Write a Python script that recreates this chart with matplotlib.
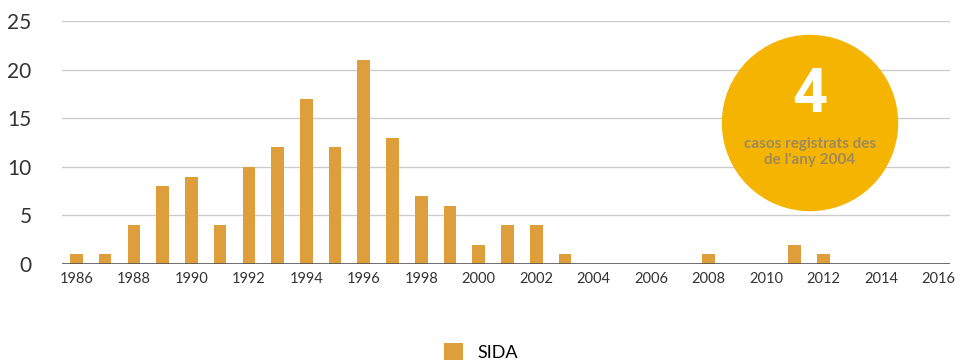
import matplotlib
matplotlib.use('Agg')
import matplotlib.pyplot as plt
from matplotlib.patches import Circle
import numpy as np

plt.rcParams['font.family'] = ['Lato', 'DejaVu Sans']

# DATA
years = list(range(1986, 2017))
sida = [1, 1, 4, 8, 9, 4, 10, 12, 17, 12, 21, 13, 7, 6, 2, 4, 4, 1,
        0, 0, 0, 0, 1, 0, 0, 2, 1, 0, 0, 0, 0]
tick_years = list(range(1986, 2017, 2))
y_ticks = [0, 5, 10, 15, 20, 25]
badge_number = '4'
badge_text = 'casos registrats des\nde l\'any 2004'

bar_color = '#DE9E3C'
badge_color = '#F5B400'

fig = plt.figure(figsize=(9.62, 3.64), dpi=100)
ax = fig.add_axes([0.0645, 0.2747, 0.923, 0.6676])

bars = ax.bar(years, sida, width=0.44, color=bar_color, label='SIDA', zorder=3)

ax.set_xlim(1985.5, 2016.4)
ax.set_ylim(0, 25)
ax.set_xticks(tick_years)
ax.set_xticklabels([str(y) for y in tick_years], fontsize=10.5, color='#333333')
ax.set_yticks(y_ticks)
ax.set_yticklabels([str(v) for v in y_ticks], fontsize=15, color='#333333')
ax.tick_params(axis='both', length=0)
ax.tick_params(axis='y', pad=22)
ax.tick_params(axis='x', pad=6)

for v in y_ticks[1:]:
    ax.axhline(v, color='#cccccc', lw=1, zorder=1)
ax.axhline(0, color='#555555', lw=1.2, zorder=4)
for s in ax.spines.values():
    s.set_visible(False)

# BADGE CIRCLE
circ = Circle((8.10, 3.64 - 1.23), 0.875, transform=fig.dpi_scale_trans,
              color=badge_color, zorder=10, clip_on=False)
fig.patches.append(circ)
fig.text(8.10 / 9.62, 1 - 95 / 364, badge_number, ha='center', va='center',
         fontsize=44, fontweight='bold', color='white', family='Roboto', zorder=11)
fig.text(8.10 / 9.62, 1 - 152 / 364, badge_text, ha='center', va='center',
         fontsize=11, fontweight='bold', color='#A08A5C', linespacing=1.25, zorder=11)

# LEGEND
fig.legend(handles=[bars], labels=['SIDA'], loc='center', bbox_to_anchor=(0.5, 1 - 352 / 364),
           frameon=False, fontsize=13, handlelength=1.1, handleheight=1.1)

fig.savefig('out.png', dpi=100)
